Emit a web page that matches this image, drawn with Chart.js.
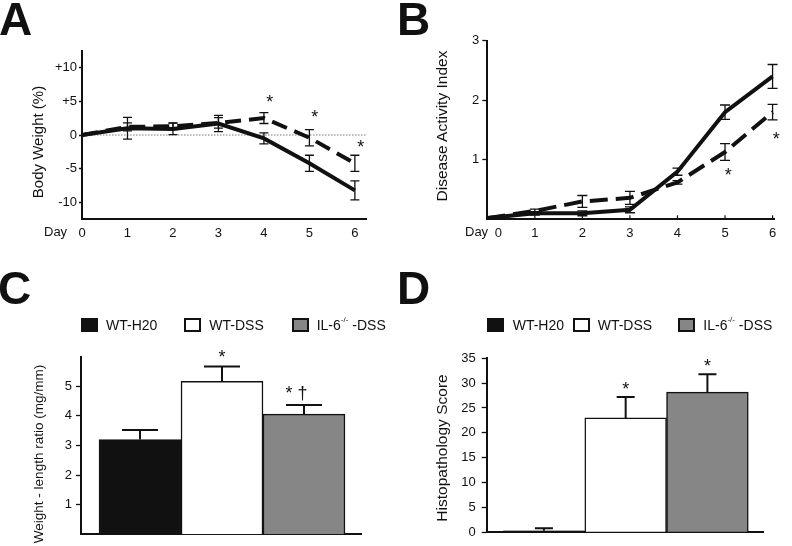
<!DOCTYPE html>
<html><head><meta charset="utf-8">
<script src="https://cdn.jsdelivr.net/npm/chart.js@4/dist/chart.umd.min.js"></script>
<style>
html,body{margin:0;padding:0;background:#fff}
body{width:792px;height:546px;overflow:hidden;position:relative;font-family:'Liberation Sans',Arial,sans-serif;color:#111}
canvas{position:absolute}
.t{position:absolute;white-space:nowrap;line-height:1}
.rot{position:absolute;white-space:nowrap;line-height:1;transform:translate(-50%,-50%) rotate(-90deg)}
.sw{position:absolute;width:17px;height:14px;box-sizing:border-box;border:2px solid #111}
sup{font-size:8px;position:relative;top:-2px;vertical-align:top;line-height:1}
</style></head><body>
<canvas id="cA" width="396" height="270" style="left:0;top:0"></canvas>
<canvas id="cB" width="396" height="270" style="left:396px;top:0"></canvas>
<canvas id="cC" width="396" height="276" style="left:0;top:270px"></canvas>
<canvas id="cD" width="396" height="276" style="left:396px;top:270px"></canvas>

<div class="t" style="left:-1px;top:-4px;font-size:46px;font-weight:bold">A</div>
<div class="t" style="left:397px;top:-4px;font-size:46px;font-weight:bold">B</div>
<div class="t" style="left:-2px;top:265px;font-size:46px;font-weight:bold">C</div>
<div class="t" style="left:397px;top:265px;font-size:46px;font-weight:bold">D</div>

<div class="rot" style="left:37px;top:142px;font-size:15px">Body Weight (%)</div>
<div class="rot" style="left:442px;top:126px;font-size:15.5px">Disease Activity Index</div>
<div class="rot" style="left:39px;top:454px;font-size:13.5px">Weight - length ratio (mg/mm)</div>
<div class="rot" style="left:442px;top:448px;font-size:15.5px">Histopathology Score</div>

<div class="t" style="left:44px;top:225px;font-size:13px">Day</div>
<div class="t" style="left:465px;top:225px;font-size:13px">Day</div>
<div id="legends"></div>

<script>
// ---------- data ----------
const days = [0, 1, 2, 3, 4, 5, 6];

const bwTicks = [-10, -5, 0, 5, 10];
const bwWT = [0, 1.0, 0.9, 1.7, -0.5, -4.2, -8.2];
const bwWTsem = [0, 1.6, 0.85, 1.2, 0.8, 1.2, 1.4];
const bwKO = [0, 1.2, 1.3, 1.8, 2.5, -0.4, -4.2];
const bwKOsem = [0, 0.6, 0.5, 0.77, 0.8, 1.2, 1.2];
const bwStars = [[4.13, 5.3], [5.12, 3.07], [6.13, -1.38]];

const daiTicks = [1, 2, 3];
const daiWT = [0.02, 0.1, 0.1, 0.16, 0.8, 1.8, 2.4];
const daiWTsem = [0, 0.03, 0.04, 0.05, 0.06, 0.12, 0.2];
const daiKO = [0.02, 0.14, 0.3, 0.36, 0.62, 1.13, 1.8];
const daiKOsem = [0, 0.03, 0.1, 0.11, 0.03, 0.14, 0.13];
const daiStars = [[5.07, 0.79], [6.08, 1.40]];

const groups = ['WT-H20', 'WT-DSS', 'IL-6-/- -DSS'];
const groupColors = ['#111111', '#ffffff', '#868686'];

const wlTicks = [1, 2, 3, 4, 5];
const wlRatio = [3.2, 5.17, 4.06];
const wlSem = [0.32, 0.5, 0.31];
const wlMarks = [[1.5, 6.09, '*'], [2.41, 4.86, '* †']];

const histoTicks = [0, 5, 10, 15, 20, 25, 30, 35];
const histo = [0.3, 23.0, 28.2];
const histoSem = [0.5, 4.2, 3.6];
const histoMarks = [[1.5, 29.5, '*'], [2.5, 34.1, '*']];

// ---------- helpers ----------
const FONT = "'Liberation Sans', Arial, sans-serif";
const INK = '#111';

function errPlugin(sets) {
  return {
    id: 'err' + Math.random().toString(36).slice(2),
    afterDatasetsDraw(chart) {
      const ctx = chart.ctx, ys = chart.scales.y;
      sets.forEach(s => {
        const meta = chart.getDatasetMeta(s.ds);
        const vals = chart.data.datasets[s.ds].data;
        ctx.save();
        ctx.strokeStyle = INK; ctx.lineWidth = s.lw; ctx.setLineDash([]);
        meta.data.forEach((el, i) => {
          const e = s.sem[i]; if (!e) return;
          const v = vals[i].y;
          const x = el.x, h = s.cap / 2;
          const top = ys.getPixelForValue(v + e);
          const bot = s.up ? ys.getPixelForValue(v) : ys.getPixelForValue(v - e);
          ctx.beginPath();
          ctx.moveTo(x, top); ctx.lineTo(x, bot);
          ctx.moveTo(x - h, top); ctx.lineTo(x + h, top);
          if (!s.up) { ctx.moveTo(x - h, bot); ctx.lineTo(x + h, bot); }
          ctx.stroke();
        });
        ctx.restore();
      });
    }
  };
}
function markPlugin(items, size) {
  return {
    id: 'mk' + Math.random().toString(36).slice(2),
    afterDraw(chart) {
      const ctx = chart.ctx, xs = chart.scales.x, ys = chart.scales.y;
      ctx.save();
      ctx.fillStyle = INK; ctx.font = size + 'px ' + FONT;
      ctx.textAlign = 'center'; ctx.textBaseline = 'middle';
      items.forEach(it => {
        ctx.fillText(it[2] || '*', xs.getPixelForValue(it[0]), ys.getPixelForValue(it[1]) + size * 0.22);
      });
      ctx.restore();
    }
  };
}
const zeroLine = {
  id: 'zeroLine',
  beforeDatasetsDraw(chart) {
    const ctx = chart.ctx, a = chart.chartArea, y = chart.scales.y.getPixelForValue(0);
    ctx.save(); ctx.strokeStyle = '#777'; ctx.lineWidth = 1; ctx.setLineDash([1.5, 1.5]);
    ctx.beginPath(); ctx.moveTo(a.left, y); ctx.lineTo(a.right, y); ctx.stroke(); ctx.restore();
  }
};
// B: small inward x ticks, and the day-0 label set slightly right of the axis (as in the original)
const innerXTicks = {
  id: 'innerXTicks',
  afterDraw(chart) {
    const ctx = chart.ctx, xs = chart.scales.x, b = chart.chartArea.bottom;
    ctx.save(); ctx.strokeStyle = INK; ctx.lineWidth = 1.2;
    xs.ticks.forEach(t => {
      if (t.value === 0) return;
      const x = xs.getPixelForValue(t.value);
      ctx.beginPath(); ctx.moveTo(x, b); ctx.lineTo(x, b - 4); ctx.stroke();
    });
    ctx.fillStyle = INK; ctx.font = '13px ' + FONT; ctx.textAlign = 'center'; ctx.textBaseline = 'alphabetic';
    ctx.fillText(String(days[0]), xs.getPixelForValue(days[0]) + 11, 236.5);
    ctx.restore();
  }
};

function pts(xs, ys) { return xs.map((x, i) => ({ x: x, y: ys[i] })); }

function lineChart(id, wt, ko, dash, xmax, ymin, ymax, yTicks, yFmt, xFmt, pad, ywidth, xheight, tickLen, tickPad, extra) {
  return new Chart(document.getElementById(id), {
    type: 'line',
    data: {
      datasets: [
        { label: 'WT', data: pts(days, wt), borderColor: INK, borderWidth: 4, pointRadius: 0, tension: 0, borderCapStyle: 'butt', borderJoinStyle: 'miter', fill: false },
        { label: 'IL-6-/-', data: pts(days, ko), borderColor: INK, borderWidth: 4, borderDash: dash, pointRadius: 0, tension: 0, borderCapStyle: 'butt', borderJoinStyle: 'miter', fill: false }
      ]
    },
    options: {
      responsive: false, animation: false, devicePixelRatio: 1,
      events: [],
      layout: { padding: pad },
      plugins: { legend: { display: false }, tooltip: { enabled: false } },
      scales: {
        x: {
          type: 'linear', min: 0, max: xmax,
          afterBuildTicks: s => { s.ticks = days.map(v => ({ value: v })); },
          grid: { display: false, drawTicks: false },
          border: { display: true, color: INK, width: 2 },
          ticks: { color: INK, font: { family: FONT, size: 13 }, padding: 6, maxRotation: 0, callback: xFmt },
          afterFit: s => { s.height = xheight; }
        },
        y: {
          type: 'linear', min: ymin, max: ymax,
          afterBuildTicks: s => { s.ticks = yTicks.map(v => ({ value: v })); },
          grid: { display: true, drawOnChartArea: false, drawTicks: true, tickLength: tickLen, color: INK, tickWidth: 1.3 },
          border: { display: true, color: INK, width: 2 },
          ticks: { color: INK, font: { family: FONT, size: 13 }, padding: tickPad, callback: yFmt },
          afterFit: s => { s.width = ywidth; }
        }
      }
    },
    plugins: extra
  });
}

// ---------- Panel A ----------
lineChart('cA', bwWT, bwKO, [16, 8], 6.26, -12.5, 12.5, bwTicks,
  v => (v > 0 ? '+' + v : String(v)),
  v => String(v),
  { left: 0, right: 29.3, top: 50.6, bottom: 0 }, 82, 50.6, 3, 2,
  [zeroLine,
   errPlugin([{ ds: 0, sem: bwWTsem, cap: 9, lw: 1.3, up: false }, { ds: 1, sem: bwKOsem, cap: 9, lw: 1.3, up: false }]),
   markPlugin(bwStars, 18)]);

// ---------- Panel B ----------
lineChart('cB', daiWT, daiKO, [18, 8], 6.03, 0, 3, daiTicks,
  v => String(v),
  v => (v === 0 ? '' : String(v)),
  { left: 0, right: 18, top: 40.7, bottom: 0 }, 91.3, 50.7, 5, 3,
  [innerXTicks,
   errPlugin([{ ds: 0, sem: daiWTsem, cap: 10, lw: 1.3, up: false }, { ds: 1, sem: daiKOsem, cap: 10, lw: 1.3, up: false }]),
   markPlugin(daiStars, 18)]);

// ---------- Bar panels ----------
function barChart(id, vals, sem, marks, ymax, yTicks, xmin, xmax, pad, ywidth, xheight, tickPad, cap) {
  return new Chart(document.getElementById(id), {
    type: 'bar',
    data: {
      datasets: [{
        data: pts(groups.map((g, i) => i + 0.5), vals),
        backgroundColor: groupColors, borderColor: INK, borderWidth: 1.5,
        barPercentage: 1, categoryPercentage: 1, borderSkipped: 'start'
      }]
    },
    options: {
      responsive: false, animation: false, devicePixelRatio: 1, events: [],
      layout: { padding: pad },
      plugins: { legend: { display: false }, tooltip: { enabled: false } },
      scales: {
        x: {
          type: 'linear', min: xmin, max: xmax, offset: false,
          grid: { display: false, drawTicks: false },
          border: { display: true, color: INK, width: 2 },
          ticks: { display: false },
          afterFit: s => { s.height = xheight; }
        },
        y: {
          type: 'linear', min: 0, max: ymax,
          afterBuildTicks: s => { s.ticks = yTicks.map(v => ({ value: v })); },
          grid: { display: true, drawOnChartArea: false, drawTicks: true, tickLength: 5, color: INK, tickWidth: 1.3 },
          border: { display: true, color: INK, width: 2 },
          ticks: { color: INK, font: { family: FONT, size: 13 }, padding: tickPad },
          afterFit: s => { s.width = ywidth; }
        }
      }
    },
    plugins: [errPlugin([{ ds: 0, sem: sem, cap: cap, lw: 2, up: true }]), markPlugin(marks, 18)]
  });
}

barChart('cC', wlRatio, wlSem, wlMarks, 6, wlTicks, -0.22, 3.204,
  { left: 0, right: 34.3, top: 86.7, bottom: 0 }, 81, 2.8, 4, 36);
barChart('cD', histo, histoSem, histoMarks, 35, histoTicks, -0.2, 3.18,
  { left: 0, right: 29, top: 88.3, bottom: 0 }, 90.7, 4.3, 6, 18);

// ---------- legends (HTML) ----------
const legendLayouts = [
  { boxes: [81, 184.3, 291.7], texts: [106, 209.3, 316.7] },
  { boxes: [486.5, 572.7, 678.3], texts: [512.7, 597.7, 703.3] }
];
const lg = document.getElementById('legends');
legendLayouts.forEach(L => {
  groups.forEach((g, i) => {
    const b = document.createElement('div');
    b.className = 'sw';
    b.style.left = L.boxes[i] + 'px'; b.style.top = '317.5px';
    b.style.background = groupColors[i];
    lg.appendChild(b);
    const t = document.createElement('div');
    t.className = 't';
    t.style.left = L.texts[i] + 'px'; t.style.top = '317.5px'; t.style.fontSize = '14px';
    t.innerHTML = g.replace('-/-', '<sup>-/-</sup>');
    lg.appendChild(t);
  });
});
</script>
</body></html>
